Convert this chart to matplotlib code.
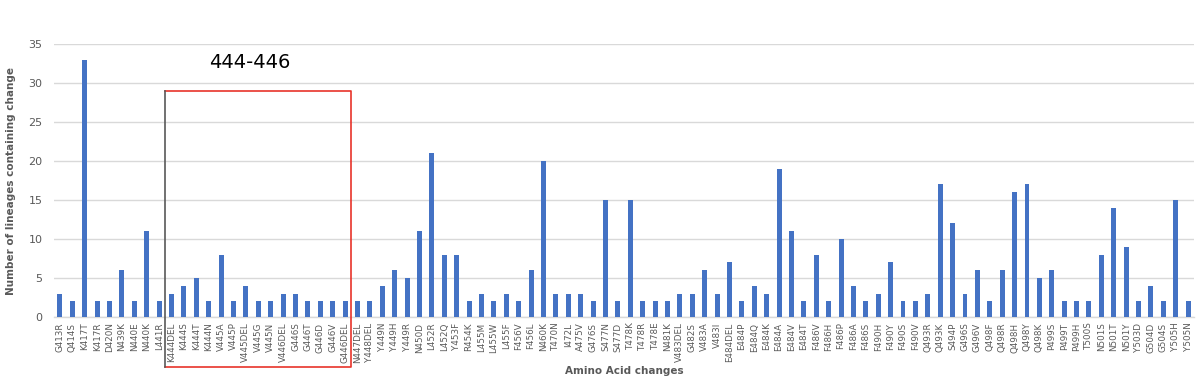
import numpy as np
import matplotlib
matplotlib.use("Agg")
import matplotlib.pyplot as plt

# ── data ───────────────────────────────────────────────────────────────────────
MUTATIONS = [
    'G413R', 'Q414S', 'K417T', 'K417R', 'D420N', 'N439K', 'N440E', 'N440K', 'L441R',
    'K444DEL', 'K444S', 'K444T', 'K444N', 'V445A', 'V445P', 'V445DEL', 'V445G', 'V445N',
    'V446DEL', 'G446S', 'G446T', 'G446D', 'G446V', 'G446DEL',
    'N447DEL', 'Y448DEL', 'Y449N', 'Y449H', 'Y449R', 'N450D', 'L452R', 'L452Q', 'Y453F',
    'R454K', 'L455M', 'L455W', 'L455F', 'F456V', 'F456L', 'N460K', 'T470N', 'I472L',
    'A475V', 'G476S', 'S477N', 'S477D', 'T478K', 'T478R', 'T478E', 'N481K', 'V483DEL',
    'G482S', 'V483A', 'V483I', 'E484DEL', 'E484P', 'E484Q', 'E484K', 'E484A', 'E484V',
    'E484T', 'F486V', 'F486H', 'F486P', 'F486A', 'F486S', 'F490H', 'F490Y', 'F490S',
    'F490V', 'Q493R', 'Q493K', 'S494P', 'G496S', 'G496V', 'Q498F', 'Q498R', 'Q498H',
    'Q498Y', 'Q498K', 'P499S', 'P499T', 'P499H', 'T500S', 'N501S', 'N501T', 'N501Y',
    'Y503D', 'G504D', 'G504S', 'Y505H', 'Y505N',
]
LINEAGES = [
    3, 2, 33, 2, 2, 6, 2, 11, 2,
    3, 4, 5, 2, 8, 2, 4, 2, 2,
    3, 3, 2, 2, 2, 2,
    2, 2, 4, 6, 5, 11, 21, 8, 8,
    2, 3, 2, 3, 2, 6, 20, 3, 3,
    3, 2, 15, 2, 15, 2, 2, 2, 3,
    3, 6, 3, 7, 2, 4, 3, 19, 11,
    2, 8, 2, 10, 4, 2, 3, 7, 2,
    2, 3, 17, 12, 3, 6, 2, 6, 16,
    17, 5, 6, 2, 2, 2, 8, 14, 9,
    2, 4, 2, 15, 2,
]
BOX_FIRST = 'K444DEL'
BOX_LAST = 'G446DEL'
BOX_LABEL = '444-446'

BAR_COLOR = '#4472C4'
TEXT_COLOR = '#595959'
GRID_COLOR = '#D9D9D9'

# ── figure ─────────────────────────────────────────────────────────────────────
fig = plt.figure(figsize=(12, 3.84), dpi=100)
ax = fig.add_axes([0.0448, 0.1745, 0.9505, 0.7105])

x = np.arange(len(MUTATIONS))
ax.bar(x, LINEAGES, width=0.4, color=BAR_COLOR, zorder=3)

ax.set_xlim(-0.5, len(MUTATIONS) - 0.5)
ax.set_ylim(0, 35)
ax.set_yticks(range(0, 36, 5))
ax.yaxis.grid(True, color=GRID_COLOR, linewidth=1, zorder=0)
ax.set_axisbelow(True)
for side in ('top', 'right', 'left'):
    ax.spines[side].set_visible(False)
ax.spines['bottom'].set_color(GRID_COLOR)
ax.spines['bottom'].set_linewidth(1)

ax.set_xticks(x)
ax.set_xticklabels(MUTATIONS, rotation=90, fontsize=6.3, color=TEXT_COLOR)
ax.tick_params(axis='x', length=0, pad=4)
ax.tick_params(axis='y', length=0, labelsize=8, labelcolor=TEXT_COLOR, pad=8)

ax.set_ylabel('Number of lineages containing change', fontsize=7.5,
              fontweight='bold', color=TEXT_COLOR, labelpad=9)
ax.set_xlabel('Amino Acid changes', fontsize=7.5, fontweight='bold',
              color=TEXT_COLOR, labelpad=2)

# highlight box around positions 444-446
i0 = MUTATIONS.index(BOX_FIRST) - 0.5
i1 = MUTATIONS.index(BOX_LAST) + 0.5
top, bottom = 29, -6.4
ax.plot([i0, i1, i1, i0], [top, top, bottom, bottom], color='#E8332A',
        linewidth=1.2, clip_on=False, zorder=5)
ax.plot([i0, i0], [bottom, top], color='#595959', linewidth=1.2,
        clip_on=False, zorder=5)
ax.text((i0 + i1) / 2 - 0.7, 32.6, BOX_LABEL, ha='center', va='center',
        fontsize=14, color='black')

plt.savefig('out.png', dpi=100)
